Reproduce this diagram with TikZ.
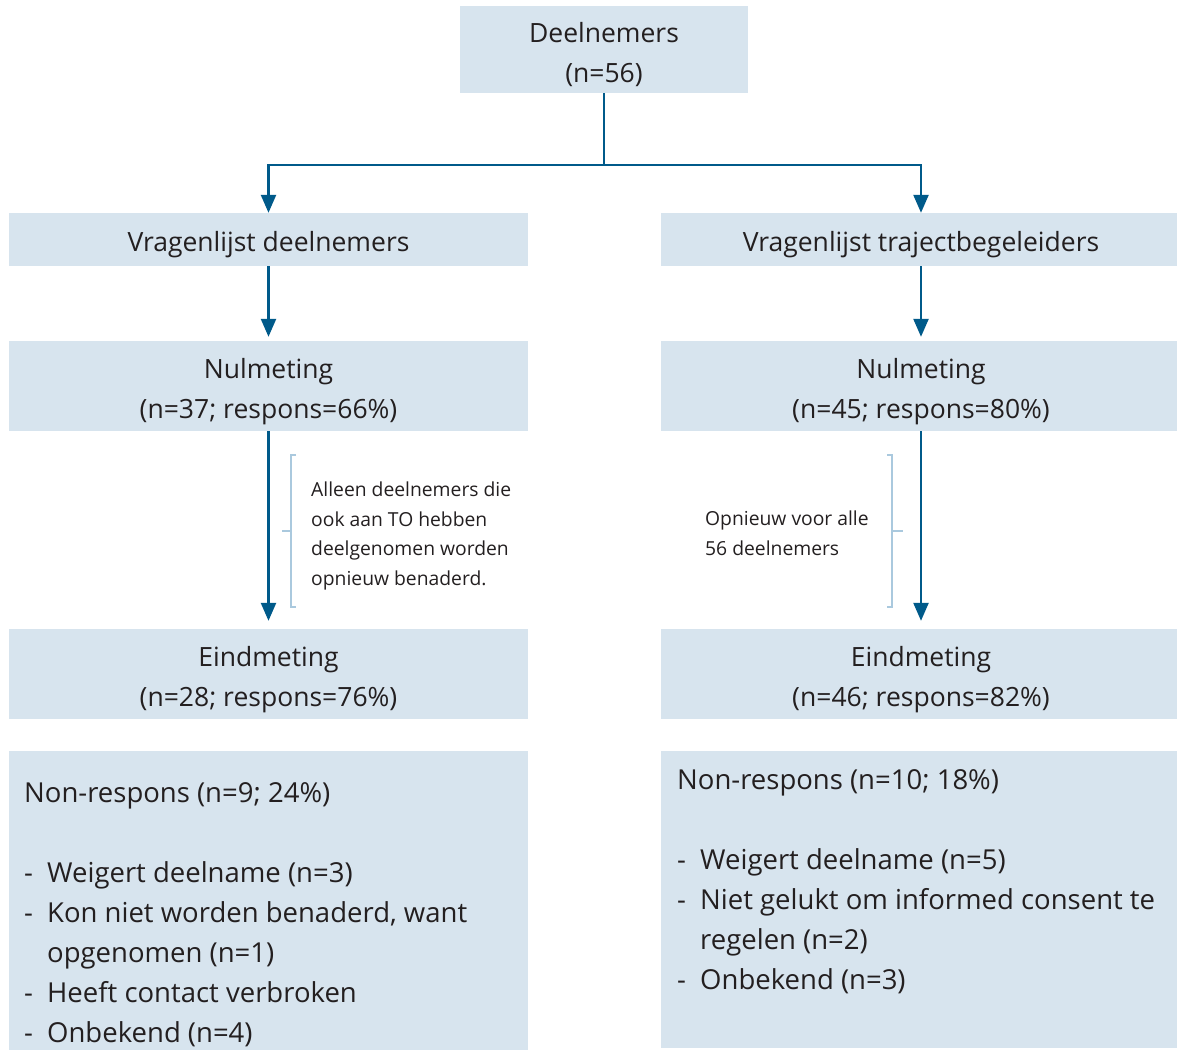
\documentclass[tikz,border=0pt]{standalone}
\usepackage{fontspec}
\setmainfont{Open Sans}
\usetikzlibrary{arrows.meta,positioning}

\definecolor{boxfill}{RGB}{215,228,238}
\definecolor{flowblue}{RGB}{0,90,138}
\definecolor{bracketblue}{RGB}{170,201,222}
\definecolor{textgray}{RGB}{35,31,32}

\newcommand{\boxstrut}{\rule{0pt}{31pt}}
\newcommand{\nrline}[1]{\makebox[23pt][l]{-}#1}
\newcommand{\nrcont}[1]{\hspace*{23pt}#1}

\tikzset{
  box/.style={fill=boxfill, draw=none, inner sep=0pt, align=center,
    text=textgray, font=\fontsize{26.5}{40}\selectfont},
  plainbox/.style={fill=boxfill, draw=none, inner sep=0pt},
  flowline/.style={draw=flowblue, line width=2.4pt},
  arrowline/.style={flowline, -{Triangle[length=18pt,width=15pt]}},
  bracketline/.style={draw=bracketblue, line width=1.6pt},
  notetext/.style={inner sep=0pt, align=left, text=textgray,
    font=\fontsize{19.3}{29.5}\selectfont},
  listtext/.style={inner sep=0pt, align=left, text=textgray,
    font=\fontsize{27.5}{40}\selectfont},
}

\begin{document}
\begin{tikzpicture}[x=1pt,y=1pt,yscale=-1]
  \useasboundingbox (0,0) rectangle (1177,1050);

  % Boxes
  \node[box, minimum width=288pt, minimum height=87pt] (deel) at (604,49.5) {\boxstrut Deelnemers\\(n=56)};

  \node[box, minimum width=519pt, minimum height=53pt] (vd) at (268.5,239.5) {\boxstrut Vragenlijst deelnemers};
  \node[box, minimum width=520pt, minimum height=53pt] (vt) at (921,239.5) {\boxstrut Vragenlijst trajectbegeleiders};

  \node[box, minimum width=519pt, minimum height=90pt] (nd) at (268.5,386) {\boxstrut Nulmeting\\(n=37; respons=66\%)};
  \node[box, minimum width=520pt, minimum height=90pt] (nt) at (921,386) {\boxstrut Nulmeting\\(n=45; respons=80\%)};

  \node[box, minimum width=519pt, minimum height=90pt] (ed) at (268.5,674) {\boxstrut Eindmeting\\(n=28; respons=76\%)};
  \node[box, minimum width=520pt, minimum height=90pt] (et) at (921,674) {\boxstrut Eindmeting\\(n=46; respons=82\%)};

  \node[plainbox, anchor=north west, minimum width=519pt, minimum height=299pt] (nrd) at (9,751) {};
  \node[plainbox, anchor=north west, minimum width=520pt, minimum height=297pt] (nrt) at (661,751) {};

  % Non-respons lists
  \node[listtext, anchor=north west] (nrdtxt) at (24,782) {Non-respons (n=9; 24\%)\\[40pt]
    \nrline{Weigert deelname (n=3)}\\
    \nrline{Kon niet worden benaderd, want}\\
    \nrcont{opgenomen (n=1)}\\
    \nrline{Heeft contact verbroken}\\
    \nrline{Onbekend (n=4)}};
  \node[listtext, anchor=north west] (nrttxt) at (677,769) {Non-respons (n=10; 18\%)\\[40pt]
    \nrline{Weigert deelname (n=5)}\\
    \nrline{Niet gelukt om informed consent te}\\
    \nrcont{regelen (n=2)}\\
    \nrline{Onbekend (n=3)}};

  % Connectors
  \draw[flowline] (deel.south) -- ++(0,72) coordinate (split);
  \draw[arrowline] (split) -| (vd.north);
  \draw[arrowline] (split) -| (vt.north);
  \draw[arrowline, shorten >=4pt] (vd.south) -- (nd.north);
  \draw[arrowline, shorten >=4pt] (vt.south) -- (nt.north);
  \draw[arrowline, shorten >=8pt] (nd.south) -- (ed.north);
  \draw[arrowline, shorten >=8pt] (nt.south) -- (et.north);

  % Notes with brackets
  \node[notetext, anchor=north west] (noted) at (311,482) {Alleen deelnemers die\\ook aan TO hebben\\deelgenomen worden\\opnieuw benaderd.};
  \draw[bracketline] (296,455) -- (291,455) -- (291,607) -- (296,607);
  \draw[bracketline] (291,531) -- (282,531);

  \node[notetext, anchor=north west] (notet) at (705,511) {Opnieuw voor alle\\56 deelnemers};
  \draw[bracketline] (887,455) -- (892,455) -- (892,607) -- (887,607);
  \draw[bracketline] (892,531) -- (903,531);
\end{tikzpicture}
\end{document}
